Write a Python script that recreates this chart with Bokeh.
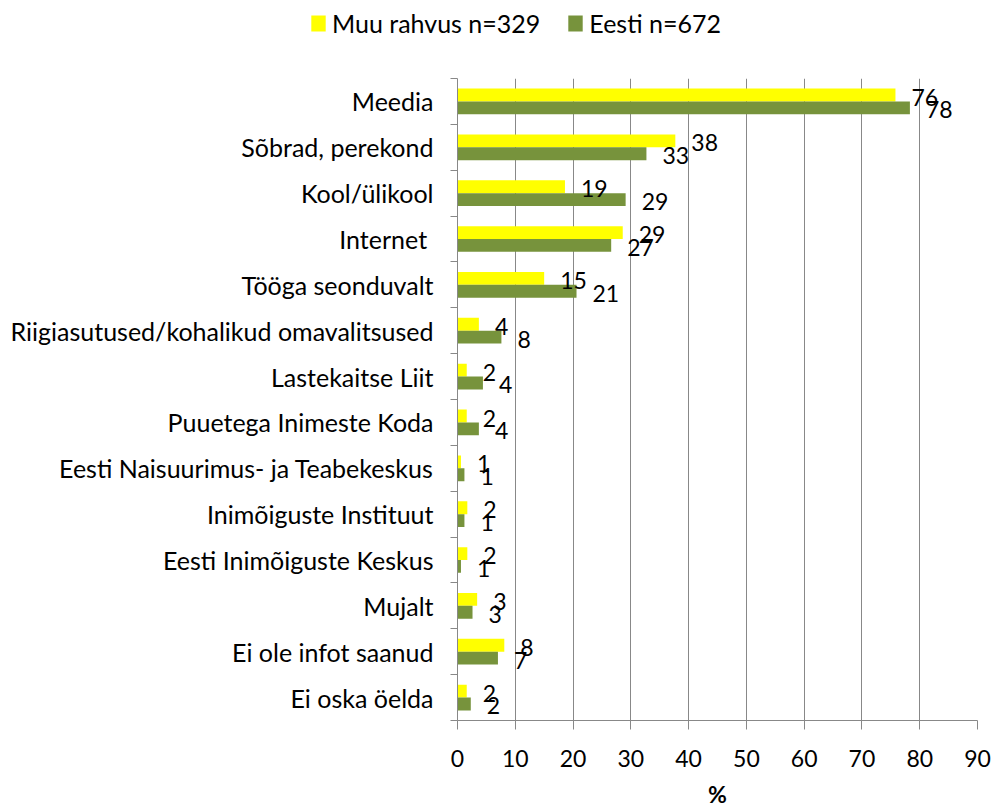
from bokeh.plotting import figure
from bokeh.layouts import column
from bokeh.models import Range1d, FixedTicker, ColumnDataSource, Legend, LegendItem
from bokeh.core.properties import value
from bokeh.transform import dodge
from bokeh.embed import file_html
from bokeh.resources import INLINE

categories = ["Meedia", "Sõbrad, perekond", "Kool/ülikool", "Internet ", "Tööga seonduvalt",
              "Riigiasutused/kohalikud omavalitsused", "Lastekaitse Liit", "Puuetega Inimeste Koda",
              "Eesti Naisuurimus- ja Teabekeskus", "Inimõiguste Instituut", "Eesti Inimõiguste Keskus",
              "Mujalt", "Ei ole infot saanud", "Ei oska öelda"]
muu_rahvus = [75.8, 37.7, 18.6, 28.6, 15.0, 3.7, 1.6, 1.6, 0.6, 1.7, 1.7, 3.4, 8.1, 1.6]
eesti = [78.3, 32.7, 29.1, 26.6, 20.6, 7.6, 4.4, 3.7, 1.2, 1.2, 0.6, 2.6, 7.0, 2.3]
series_names = ["Muu rahvus n=329", "Eesti n=672"]
x_ticks = [0, 10, 20, 30, 40, 50, 60, 70, 80, 90]
x_title = "%"

YELLOW = "#FFFF00"
GREEN = "#77933C"
GRID = "#888888"
FONT = "Lato"
FS_TXT = "25px"
FS_NUM = "23px"
W = 992

n = len(categories)
y_center = [n - 1 - i + 0.5 for i in range(n)]
src = ColumnDataSource(dict(
    y=y_center, cat=categories, muu=muu_rahvus, eesti=eesti,
    muu_lab=[f"{round(v)}" for v in muu_rahvus],
    eesti_lab=[f"{round(v)}" for v in eesti],
))

# ---- legend strip on top ----
top = figure(width=W, height=78, output_backend="svg", toolbar_location=None,
             x_range=Range1d(0, W), y_range=Range1d(0, 78),
             x_axis_type=None, y_axis_type=None, frame_align=False,
             min_border_left=0, min_border_right=0, min_border_top=0, min_border_bottom=0)
top.outline_line_color = None
top.xgrid.visible = False
top.ygrid.visible = False
# legend-key renderers (kept outside the visible range; only their legend swatches show)
key_src = ColumnDataSource(dict(y=[-100], r=[0]))
l1 = top.hbar(y="y", right="r", height=1, source=key_src, fill_color=YELLOW, line_color=None)
l2 = top.hbar(y="y", right="r", height=1, source=key_src, fill_color=GREEN, line_color=None)
legend = Legend(items=[LegendItem(label=series_names[0], renderers=[l1], index=0),
                       LegendItem(label=series_names[1], renderers=[l2], index=0)],
                orientation="horizontal", location=(309, 40),
                glyph_width=18, glyph_height=20, label_standoff=5, spacing=26,
                padding=0, margin=0, border_line_alpha=0, background_fill_alpha=0,
                label_text_font=FONT, label_text_font_size=FS_TXT, label_text_color="black")
top.add_layout(legend, "center")

# ---- main chart ----
p = figure(width=W, height=732, output_backend="svg", toolbar_location=None,
           x_range=Range1d(x_ticks[0], x_ticks[-1]), y_range=Range1d(0, n),
           frame_align=False,
           min_border_left=457, min_border_right=15, min_border_top=0, min_border_bottom=86)
p.outline_line_color = None
p.background_fill_color = "white"
p.border_fill_color = "white"

r1 = p.hbar(y=dodge("y", 0.14), right="muu", left=0, height=0.28, source=src,
            fill_color=YELLOW, line_color=None)
r2 = p.hbar(y=dodge("y", -0.14), right="eesti", left=0, height=0.28, source=src,
            fill_color=GREEN, line_color=None)

p.text(x="muu", y=dodge("y", 0.14), text="muu_lab", source=src, x_offset=16, y_offset=2,
       text_align="left", text_baseline="middle", text_font=value(FONT),
       text_font_size=FS_NUM, text_color="black")
p.text(x="eesti", y=dodge("y", -0.14), text="eesti_lab", source=src, x_offset=16, y_offset=2,
       text_align="left", text_baseline="middle", text_font=value(FONT),
       text_font_size=FS_NUM, text_color="black")

# x axis
p.xaxis.ticker = FixedTicker(ticks=x_ticks, minor_ticks=[])
p.xgrid.ticker = FixedTicker(ticks=x_ticks, minor_ticks=[])
p.xgrid.grid_line_color = GRID
p.xgrid.grid_line_width = 1
p.ygrid.visible = False
p.xaxis.axis_line_color = GRID
p.xaxis.major_tick_line_color = GRID
p.xaxis.major_tick_out = 9
p.xaxis.major_tick_in = 0
p.xaxis.minor_tick_line_color = None
p.xaxis.major_label_standoff = 20
p.xaxis.major_label_text_font = FONT
p.xaxis.major_label_text_font_size = FS_NUM
p.xaxis.major_label_text_color = "black"
p.xaxis.axis_label = x_title
p.xaxis.axis_label_text_font = FONT
p.xaxis.axis_label_text_font_size = FS_NUM
p.xaxis.axis_label_text_font_style = "bold"
p.xaxis.axis_label_text_color = "black"
p.xaxis.axis_label_standoff = 10

# y axis: labels at row centres, ticks at row boundaries
p.yaxis.ticker = FixedTicker(ticks=y_center, minor_ticks=list(range(n + 1)))
p.yaxis.major_label_overrides = {y: c for y, c in zip(y_center, categories)}
p.yaxis.axis_line_color = GRID
p.yaxis.major_tick_out = 0
p.yaxis.major_tick_in = 0
p.yaxis.minor_tick_line_color = GRID
p.yaxis.minor_tick_out = 7
p.yaxis.minor_tick_in = 0
p.yaxis.major_label_standoff = 17
p.yaxis.major_label_text_font = FONT
p.yaxis.major_label_text_font_size = FS_TXT
p.yaxis.major_label_text_color = "black"

layout = column(top, p, spacing=0)
open("out.html", "w").write(file_html(layout, INLINE))
